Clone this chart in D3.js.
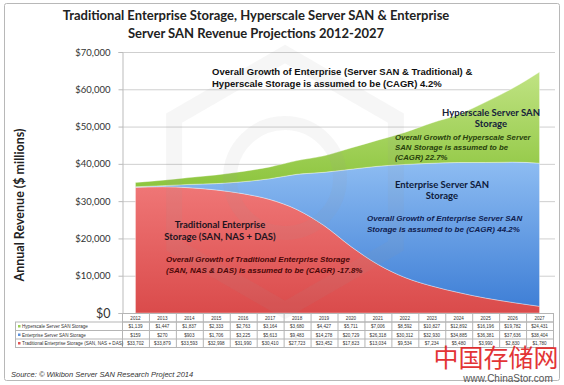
<!DOCTYPE html>
<html>
<head>
<meta charset="utf-8">
<script src="https://cdn.jsdelivr.net/npm/d3@7"></script>
<style>
  body { margin: 0; background: #fff; }
  svg text { font-family: "Liberation Sans", Arial, sans-serif; }
</style>
</head>
<body>
<div id="chart"></div>
<script>
// data ($ millions)
var years = ['2012','2013','2014','2015','2016','2017','2018','2019','2020','2021','2022','2023','2024','2025','2026','2027'];
var hyperscale = [1139, 1447, 1837, 2333, 2763, 3164, 3680, 4427, 5711, 7006, 8592, 10827, 12892, 16196, 19782, 24431];
var enterpriseSAN = [159, 270, 903, 1706, 3225, 5613, 9483, 14278, 20729, 26318, 30312, 32930, 34885, 36381, 37636, 38404];
var traditional = [33702, 33879, 33593, 32998, 31990, 30410, 27723, 23452, 17823, 13034, 9534, 7234, 5480, 3990, 2830, 1780];
var yTicks = [0, 10000, 20000, 30000, 40000, 50000, 60000, 70000];
var rowLabels = ['Hyperscale Server SAN Storage', 'Enterprise Server SAN Storage', 'Traditional Enterprise Storage (SAN, NAS + DAS)'];

var W = 564, H = 385;
var svg = d3.select('#chart').append('svg').attr('width', W).attr('height', H);

var defs = svg.append('defs');
function grad(id, top, bottom) {
  var g = defs.append('linearGradient').attr('id', id).attr('x1', 0).attr('y1', 0).attr('x2', 0).attr('y2', 1);
  g.append('stop').attr('offset', '0%').attr('stop-color', top);
  g.append('stop').attr('offset', '100%').attr('stop-color', bottom);
}
grad('gRed', '#ef7676', '#da4b4b');
grad('gBlue', '#8dbcf2', '#3f7fd6');
grad('gGreen', '#c0e383', '#8dc53e');

// frame
svg.append('rect').attr('x', 4.5).attr('y', 3.5).attr('width', 555).attr('height', 377).attr('rx', 2)
  .attr('fill', '#fff').attr('stroke', '#b8b8b8');

var x = d3.scaleBand().domain(years).range([122, 553]);
var y = d3.scaleLinear().domain([0, 70000]).range([313, 52]);
var cx = function(yr) { return x(yr) + x.bandwidth() / 2; };

// title
[['Traditional Enterprise Storage, Hyperscale Server SAN & Enterprise', 20],
 ['Server SAN Revenue Projections 2012-2027', 38]].forEach(function(t) {
  svg.append('text').attr('x', 256).attr('y', t[1]).attr('text-anchor', 'middle')
    .style('font-family', 'Lato, sans-serif').style('font-weight', 'bold').style('font-size', '13px').attr('fill', '#222')
    .text(t[0]);
});

// gridlines
svg.append('g').selectAll('line').data(yTicks.slice(1)).enter().append('line')
  .attr('x1', 122).attr('x2', 555).attr('y1', function(d) { return y(d) + 0.5; }).attr('y2', function(d) { return y(d) + 0.5; })
  .attr('stroke', '#cfcfcf');

// y axis
var yAxis = d3.axisLeft(y).tickValues(yTicks).tickSize(4).tickPadding(8)
  .tickFormat(function(d) { return '$' + d3.format(',')(d); });
var ag = svg.append('g').attr('transform', 'translate(122.5,0)').call(yAxis);
ag.select('.domain').attr('stroke', '#bbb');
ag.selectAll('.tick line').attr('stroke', '#bbb');
ag.selectAll('.tick text').style('font-family', 'Lato, sans-serif').style('font-size', '9.5px').attr('fill', '#333');
ag.selectAll('.tick').filter(function(d) { return d === 0; }).select('text').style('font-size', '12.5px');

svg.append('text').attr('transform', 'translate(24,205) rotate(-90)').attr('text-anchor', 'middle')
  .style('font-family', 'Lato, sans-serif').style('font-weight', 'bold').style('font-size', '12.5px').attr('fill', '#222')
  .text('Annual Revenue ($ millions)');

// stacked areas
var rows = years.map(function(yr, i) {
  return { year: yr, trad: traditional[i], ess: enterpriseSAN[i], hyper: hyperscale[i] };
});
var series = d3.stack().keys(['trad', 'ess', 'hyper'])(rows);
var fills = { trad: 'url(#gRed)', ess: 'url(#gBlue)', hyper: 'url(#gGreen)' };
var area = d3.area().curve(d3.curveMonotoneX)
  .x(function(d) { return cx(d.data.year); })
  .y0(function(d) { return y(d[0]); })
  .y1(function(d) { return y(d[1]); });
svg.append('g').selectAll('path').data(series).enter().append('path')
  .attr('d', area).attr('fill', function(s) { return fills[s.key]; })
  .attr('stroke', 'rgba(255,255,255,0.35)').attr('stroke-width', 1);

// faint watermark logo
var hex = d3.range(6).map(function(k) {
  var a = Math.PI / 3 * k - Math.PI / 2;
  return [285 + 128 * Math.cos(a), 182 + 128 * Math.sin(a)];
});
svg.append('polygon').attr('points', hex.map(function(p) { return p.join(','); }).join(' '))
  .attr('fill', 'none').attr('stroke', '#a0a0a0').attr('stroke-width', 16).attr('opacity', 0.09);
svg.append('circle').attr('cx', 285).attr('cy', 178).attr('r', 55)
  .attr('fill', 'none').attr('stroke', '#a0a0a0').attr('stroke-width', 14).attr('opacity', 0.09);

// annotations
function note(lines, x0, y0, dy, opts) {
  var t = svg.append('text').attr('x', x0).attr('y', y0).attr('text-anchor', opts.anchor || 'start')
    .style('font-family', opts.font || '"Liberation Sans", Arial, sans-serif')
    .style('font-weight', 'bold').style('font-style', opts.italic ? 'italic' : 'normal')
    .style('font-size', opts.size + 'px').attr('fill', opts.color);
  lines.forEach(function(l, i) {
    t.append('tspan').attr('x', x0).attr('y', y0 + i * dy).text(l);
  });
}
note(['Overall Growth of Enterprise (Server SAN & Traditional) &', 'Hyperscale Storage is assumed to be (CAGR) 4.2%'],
  212, 75, 12, { size: 9.5, color: '#111' });
note(['Hyperscale Server SAN', 'Storage'], 491, 116, 11, { size: 9.5, color: '#15213a', anchor: 'middle', font: 'Lato, sans-serif' });
note(['Overall Growth of Hyperscale Server', 'SAN Storage is assumed to be', '(CAGR) 22.7%'],
  395, 140, 10, { size: 7.8, color: '#27400c', italic: true });
note(['Enterprise Server SAN', 'Storage'], 442, 188, 11, { size: 9.5, color: '#0e1a3a', anchor: 'middle', font: 'Lato, sans-serif' });
note(['Overall Growth of Enterprise Server SAN', 'Storage is assumed to be (CAGR) 44.2%'],
  367, 221, 10.5, { size: 8, color: '#102050', italic: true });
note(['Traditional Enterprise', 'Storage (SAN, NAS + DAS)'], 220, 228, 12, { size: 9.5, color: '#1e1420', anchor: 'middle', font: 'Lato, sans-serif' });
note(['Overall Growth of Traditional Enterprise Storage', '(SAN, NAS & DAS) is assumed to be (CAGR) -17.8%'],
  166, 262, 10.5, { size: 8, color: '#4a0808', italic: true });

// data table
var tTop = 313.5, rh = 8.5;
var tbl = svg.append('g');
var markColors = ['#9ccf55', '#5a90dc', '#e05555'];
var tableData = [hyperscale, enterpriseSAN, traditional];
tbl.append('rect').attr('x', 122.5).attr('y', tTop).attr('width', 431).attr('height', rh).attr('fill', 'none').attr('stroke', '#b5b5b5');
tbl.append('rect').attr('x', 15.5).attr('y', tTop + rh).attr('width', 538).attr('height', rh * 3).attr('fill', 'none').attr('stroke', '#b5b5b5');
[1, 2].forEach(function(k) {
  tbl.append('line').attr('x1', 15.5).attr('x2', 553.5).attr('y1', tTop + rh + k * rh).attr('y2', tTop + rh + k * rh).attr('stroke', '#b5b5b5');
});
tbl.selectAll('line.col').data(years).enter().append('line').attr('class', 'col')
  .attr('x1', function(d) { return x(d) + 0.5; }).attr('x2', function(d) { return x(d) + 0.5; })
  .attr('y1', tTop).attr('y2', tTop + rh * 4).attr('stroke', '#b5b5b5');
tbl.selectAll('text.yr').data(years).enter().append('text').attr('class', 'yr')
  .attr('x', function(d) { return cx(d); }).attr('y', tTop + 6).attr('text-anchor', 'middle')
  .style('font-size', '4.6px').attr('fill', '#333').text(function(d) { return d; });
tableData.forEach(function(vals, r) {
  var yy = tTop + rh * (r + 1);
  tbl.append('rect').attr('x', 18).attr('y', yy + 3).attr('width', 2.5).attr('height', 2.5).attr('fill', markColors[r]);
  tbl.append('text').attr('x', 22).attr('y', yy + 6).style('font-size', '4.6px').attr('fill', '#333').text(rowLabels[r]);
  tbl.selectAll('text.v' + r).data(vals).enter().append('text').attr('class', 'v' + r)
    .attr('x', function(d, i) { return cx(years[i]); }).attr('y', yy + 6).attr('text-anchor', 'middle')
    .style('font-size', '4.6px').attr('fill', '#333').text(function(d) { return '$' + d3.format(',')(d); });
});

// source + site mark
svg.append('text').attr('x', 11).attr('y', 377).style('font-size', '7.5px').style('font-style', 'italic').attr('fill', '#333')
  .text('Source: \u00a9 Wikibon Server SAN Research Project 2014');
svg.append('text').attr('x', 496).attr('y', 367).attr('text-anchor', 'middle')
  .style('font-family', '"Noto Sans CJK SC", sans-serif').style('font-size', '25px').attr('fill', '#e0201e').attr('opacity', 0.9)
  .text('中国存储网');
svg.append('text').attr('x', 508).attr('y', 382).attr('text-anchor', 'middle').style('font-size', '10px').attr('fill', '#555')
  .text('www.ChinaStor.com');
</script>
</body>
</html>
